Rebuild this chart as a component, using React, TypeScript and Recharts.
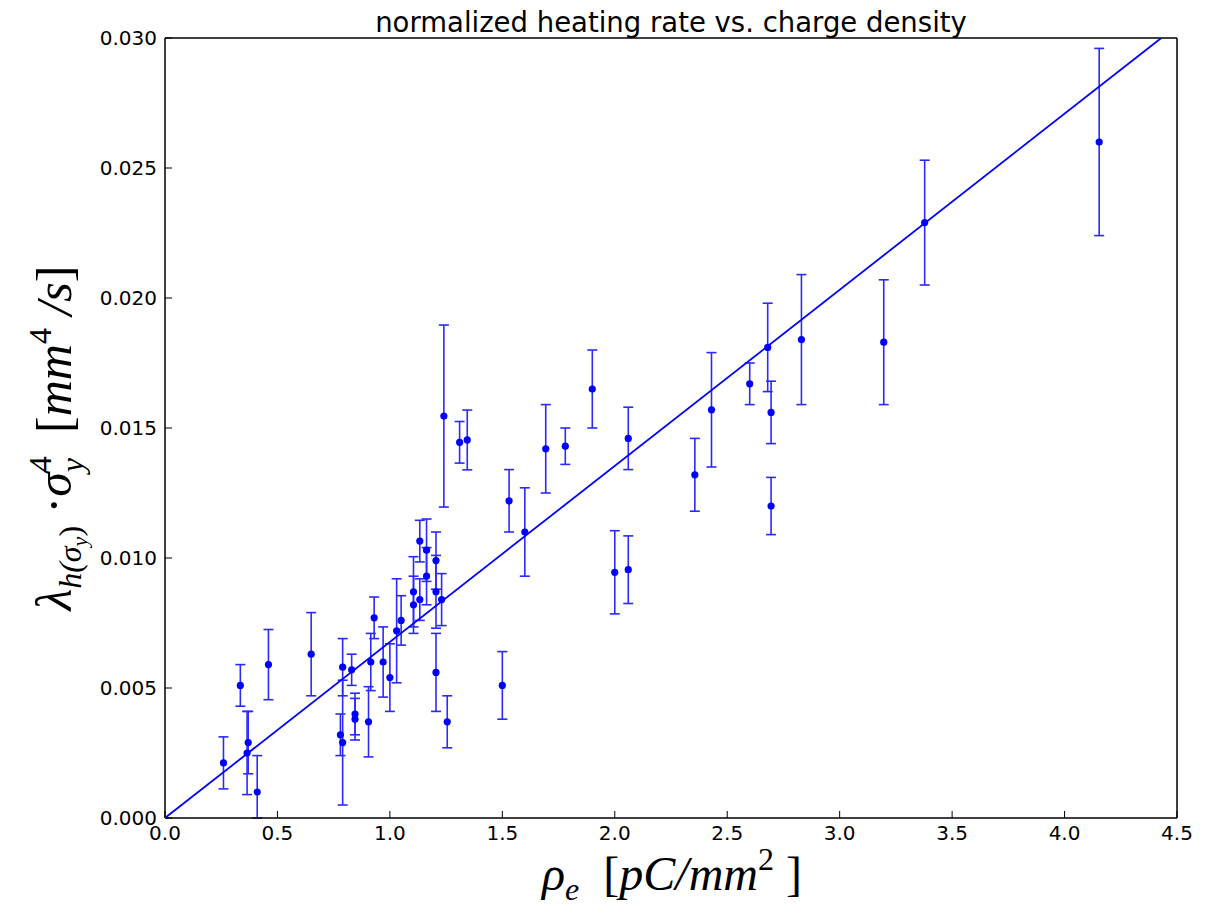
import React from 'react';
import { ScatterChart, Scatter, XAxis, YAxis, ErrorBar } from 'recharts';

// charge density rho_e [pC/mm^2]
const rhoE = [
  0.26, 0.335, 0.37, 0.365, 0.41, 0.46, 0.65, 0.78, 0.79, 0.79,
  0.83, 0.845, 0.845, 0.905, 0.915, 0.93, 0.97, 1.0, 1.03, 1.05,
  1.105, 1.105, 1.133, 1.133, 1.163, 1.163, 1.205, 1.205, 1.205, 1.23,
  1.24, 1.255, 1.31, 1.344, 1.5, 1.53, 1.6, 1.693, 1.78, 1.9,
  2.0, 2.06, 2.06, 2.356, 2.43, 2.6, 2.68, 2.695, 2.695, 2.83,
  3.196, 3.378, 4.154,
];

// normalized heating rate [mm^4/s]
const heating = [
  0.00212, 0.0051, 0.0029, 0.0025, 0.001, 0.0059, 0.0063, 0.0032, 0.0058, 0.0029,
  0.0057, 0.004, 0.0038, 0.0037, 0.006, 0.0077, 0.006, 0.0054, 0.0072, 0.0076,
  0.0087, 0.0082, 0.01065, 0.0084, 0.0103, 0.0093, 0.0099, 0.0087, 0.0056, 0.0084,
  0.01546, 0.0037, 0.01445, 0.01454, 0.0051, 0.0122, 0.011, 0.0142, 0.0143, 0.0165,
  0.00945, 0.00955, 0.0146, 0.0132, 0.0157, 0.0167, 0.0181, 0.0156, 0.012, 0.0184,
  0.0183, 0.0229, 0.026,
];

const heatingErr = [
  0.001, 0.0008, 0.0012, 0.0016, 0.0014, 0.00135, 0.0016, 0.0008, 0.0011, 0.0024,
  0.0006, 0.0008, 0.0008, 0.00135, 0.0011, 0.0008, 0.00135, 0.0013, 0.002, 0.00095,
  0.00135, 0.0011, 0.0008, 0.0008, 0.0012, 0.0011, 0.0011, 0.0014, 0.0015, 0.001,
  0.0035, 0.001, 0.0008, 0.00115, 0.0013, 0.0012, 0.0017, 0.0017, 0.0007, 0.0015,
  0.0016, 0.0013, 0.0012, 0.0014, 0.0022, 0.0008, 0.0017, 0.0012, 0.0011, 0.0025,
  0.0024, 0.0024, 0.0036,
];

// linear fit through origin
const fitLine = [
  { x: 0, y: 0 },
  { x: 4.43, y: 0.03 },
];

const xTicks = [0, 0.5, 1, 1.5, 2, 2.5, 3, 3.5, 4, 4.5];
const yTicks = [0, 0.005, 0.01, 0.015, 0.02, 0.025, 0.03];

// lower error is cut at the x axis, like the clipped bar in the original
const points = rhoE.map((x, i) => ({
  x,
  y: heating[i],
  e: [Math.min(heatingErr[i], heating[i]), heatingErr[i]],
}));

const W = 1197;
const H = 898;
const tickFont = { fontFamily: 'DejaVu Sans', fontSize: 20, fill: '#000' };
const serif = 'Liberation Serif';
const pre = { whiteSpace: 'pre' as const };

const Dot = (props: any) => <circle cx={props.cx} cy={props.cy} r={3.6} fill="#0000ff" />;

export default function App() {
  return (
    <div style={{ position: 'relative', width: W, height: H }}>
      <ScatterChart width={W} height={H} margin={{ top: 29, right: 27, bottom: 0, left: 0 }}>
        <XAxis
          type="number"
          dataKey="x"
          domain={[0, 4.5]}
          ticks={xTicks}
          allowDataOverflow
          height={88}
          tickSize={-7}
          tickMargin={15}
          tickFormatter={(v: number) => v.toFixed(1)}
          tick={tickFont}
          stroke="#000"
          axisLine={{ stroke: '#000', strokeWidth: 1.5 }}
          tickLine={{ stroke: '#000', strokeWidth: 1 }}
        />
        <XAxis
          xAxisId="top"
          orientation="top"
          type="number"
          dataKey="x"
          domain={[0, 4.5]}
          ticks={xTicks}
          height={1}
          tickSize={-7}
          tick={false}
          axisLine={{ stroke: '#000', strokeWidth: 1.5 }}
          tickLine={{ stroke: '#000', strokeWidth: 1 }}
        />
        <YAxis
          type="number"
          dataKey="y"
          domain={[0, 0.03]}
          ticks={yTicks}
          allowDataOverflow
          width={157}
          tickSize={-7}
          tickMargin={15}
          tickFormatter={(v: number) => v.toFixed(3)}
          tick={tickFont}
          axisLine={{ stroke: '#000', strokeWidth: 1.5 }}
          tickLine={{ stroke: '#000', strokeWidth: 1 }}
        />
        <YAxis
          yAxisId="right"
          orientation="right"
          type="number"
          dataKey="y"
          domain={[0, 0.03]}
          ticks={yTicks}
          width={1}
          tickSize={-7}
          tick={false}
          axisLine={{ stroke: '#000', strokeWidth: 1.5 }}
          tickLine={{ stroke: '#000', strokeWidth: 1 }}
        />
        <Scatter
          data={fitLine}
          line={{ stroke: '#0000ff', strokeWidth: 1.8 }}
          shape={() => <g />}
          isAnimationActive={false}
        />
        <Scatter data={points} shape={Dot} isAnimationActive={false}>
          <ErrorBar dataKey="e" direction="y" width={5} stroke="#2a2aff" strokeWidth={1.6} isAnimationActive={false} />
        </Scatter>
      </ScatterChart>
      <svg width={W} height={H} style={{ position: 'absolute', left: 0, top: 0, pointerEvents: 'none' }}>
        <text x={663} y={24} textAnchor="middle" fontFamily="DejaVu Sans" fontSize={27.5} fill="#000">
          normalized heating rate vs. charge density
        </text>
        <text x={664} y={882} textAnchor="middle" fontFamily={serif} fontSize={48} fill="#000" style={pre}>
          <tspan fontStyle="italic">ρ</tspan>
          <tspan fontStyle="italic" fontSize={32} dy={10}>e</tspan>
          <tspan dy={-10}>{'  ['}</tspan>
          <tspan fontStyle="italic">pC/mm</tspan>
          <tspan fontSize={32} dy={-20}>2</tspan>
          <tspan dy={20}>{' ]'}</tspan>
        </text>
        <text
          transform="translate(63, 430) rotate(-90)"
          textAnchor="middle"
          fontFamily={serif}
          fontSize={50}
          fill="#000"
          style={pre}
        >
          <tspan fontStyle="italic">λ</tspan>
          <tspan fontStyle="italic" fontSize={32} dy={10}>h(σ</tspan>
          <tspan fontStyle="italic" fontSize={22} dy={6}>y</tspan>
          <tspan fontSize={32} dy={-6}>)</tspan>
          <tspan dy={-10}>{' ·'}</tspan>
          <tspan fontStyle="italic">σ</tspan>
          <tspan fontSize={32} dy={-20}>4</tspan>
          <tspan fontStyle="italic" fontSize={32} dx={-16} dy={32}>y</tspan>
          <tspan dy={-12}>{'  ['}</tspan>
          <tspan fontStyle="italic">mm</tspan>
          <tspan fontSize={32} dy={-20}>4</tspan>
          <tspan fontStyle="italic" dy={20}>{' /s'}</tspan>
          <tspan>]</tspan>
        </text>
      </svg>
    </div>
  );
}
